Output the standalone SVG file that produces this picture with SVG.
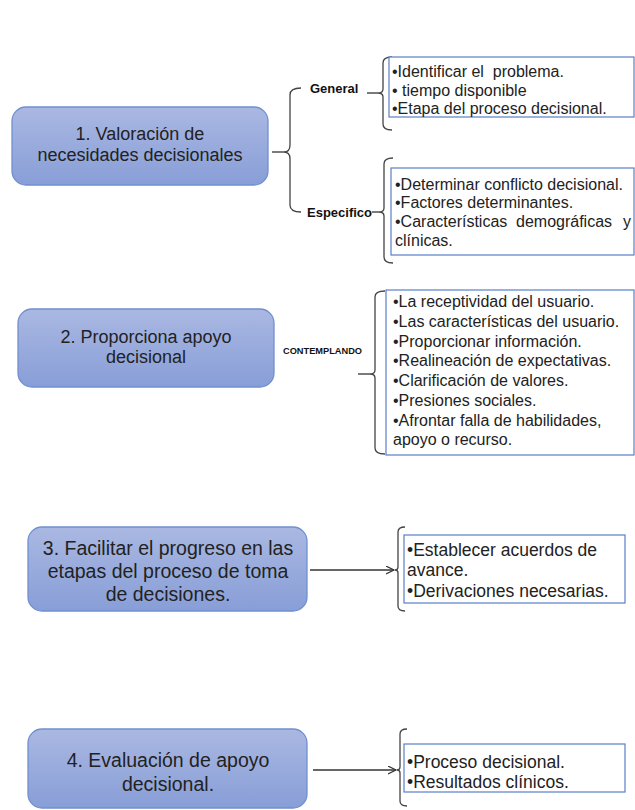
<svg xmlns="http://www.w3.org/2000/svg" width="635" height="810" viewBox="0 0 635 810">
<defs>
<linearGradient id="g" x1="0" y1="0" x2="0" y2="1">
<stop offset="0" stop-color="#aab8e2"/>
<stop offset="1" stop-color="#889ed7"/>
</linearGradient>
<marker id="arr" markerWidth="10" markerHeight="10" refX="8" refY="4" orient="auto" markerUnits="userSpaceOnUse">
<path d="M0,0 L8,4 L0,8" fill="none" stroke="#333" stroke-width="1.2"/>
</marker>
<style>
.node{fill:url(#g);stroke:#7090d0;stroke-width:1.3}
.list{fill:#fff;stroke:#5a7fc8;stroke-width:1.2}
.t{font-family:"Liberation Sans",Arial,sans-serif;fill:#222}
.big{font-size:18px}
.big2{font-size:19.5px}
.item{font-size:16px}
.item2{font-size:17.5px}
.lbl{font-family:"Liberation Sans",Arial,sans-serif;font-weight:bold;fill:#111}
.br{fill:none;stroke:#444;stroke-width:1.3}
.ln{fill:none;stroke:#333;stroke-width:1.3}
</style>
</defs>
<rect width="635" height="810" fill="#fff"/>

<g id="connectors">
<line class="ln" x1="272" y1="152" x2="284" y2="152"/>
<path class="br" d="M301,88 Q290,88 290,95 L290,145 Q290,152 284,152 Q290,152 290,159 L290,205 Q290,212 301,212"/>
<line class="ln" x1="367" y1="93" x2="378" y2="93"/>
<path class="br" d="M392,57 Q383,57 383,63 L383,89 Q383,93 378,93 Q383,93 383,97 L383,124 Q383,130 392,130"/>
<line class="ln" x1="372" y1="212" x2="379" y2="212"/>
<path class="br" d="M393,158 Q384,158 384,164 L384,208 Q384,212 379,212 Q384,212 384,216 L384,257 Q384,263 393,263"/>
<line class="ln" x1="358" y1="374" x2="370" y2="374"/>
<path class="br" d="M385,291 Q375,291 375,297 L375,370 Q375,374 370,374 Q375,374 375,378 L375,448 Q375,454 385,454"/>
<line class="ln" x1="310" y1="570" x2="394" y2="570" marker-end="url(#arr)"/>
<path class="br" d="M405,527 Q398,527 398,532 L398,567 Q398,570 395,570 Q398,570 398,573 L398,606 Q398,611 405,611"/>
<line class="ln" x1="313" y1="770" x2="396" y2="770" marker-end="url(#arr)"/>
<path class="br" d="M407,729 Q400,729 400,734 L400,767 Q400,770 397,770 Q400,770 400,773 L400,801 Q400,806 407,806"/>
</g>

<g id="n1">
<rect class="node" x="12" y="107" width="256" height="78" rx="14"/>
<text class="t big" x="140" y="140" text-anchor="middle">1. Valoración de</text>
<text class="t big" x="140" y="161" text-anchor="middle">necesidades decisionales</text>
</g>
<g id="lbl-general">
<text class="lbl" x="310" y="93" font-size="13">General</text>
</g>
<g id="lbl-especifico">
<text class="lbl" x="307" y="217" font-size="13">Especifico</text>
</g>
<g id="l1a">
<rect class="list" x="389" y="57" width="245" height="60"/>
<text class="t item" x="392" y="77" xml:space="preserve">•Identificar el  problema.</text>
<text class="t item" x="392" y="96">• tiempo disponible</text>
<text class="t item" x="392" y="114">•Etapa del proceso decisional.</text>
</g>
<g id="l1b">
<rect class="list" x="391" y="168" width="243" height="87"/>
<text class="t item" x="395" y="190">•Determinar conflicto decisional.</text>
<text class="t item" x="395" y="208">•Factores determinantes.</text>
<text class="t item" y="227"><tspan x="395">•Características</tspan><tspan x="516">demográficas</tspan><tspan x="623">y</tspan></text>
<text class="t item" x="395" y="246">clínicas.</text>
</g>

<g id="n2">
<rect class="node" x="18" y="309" width="256" height="78" rx="14"/>
<text class="t big" x="146" y="343" text-anchor="middle">2. Proporciona apoyo</text>
<text class="t big" x="146" y="363" text-anchor="middle">decisional</text>
</g>
<g id="lbl-contemplando">
<text class="lbl" x="283" y="354" font-size="9" textLength="79" lengthAdjust="spacingAndGlyphs">CONTEMPLANDO</text>
</g>
<g id="l2">
<rect class="list" x="386" y="290" width="248" height="165"/>
<text class="t item" x="393" y="307">•La receptividad del usuario.</text>
<text class="t item" x="393" y="327">•Las características del usuario.</text>
<text class="t item" x="393" y="347">•Proporcionar información.</text>
<text class="t item" x="393" y="366">•Realineación de expectativas.</text>
<text class="t item" x="393" y="386">•Clarificación de valores.</text>
<text class="t item" x="393" y="406">•Presiones sociales.</text>
<text class="t item" x="393" y="426">•Afrontar falla de habilidades,</text>
<text class="t item" x="393" y="445">apoyo o recurso.</text>
</g>

<g id="n3">
<rect class="node" x="28" y="527" width="279" height="84" rx="14"/>
<text class="t big2" x="168" y="555" text-anchor="middle">3. Facilitar el progreso en las</text>
<text class="t big2" x="168" y="578" text-anchor="middle">etapas del proceso de toma</text>
<text class="t big2" x="168" y="601" text-anchor="middle">de decisiones.</text>
</g>
<g id="l3">
<rect class="list" x="404" y="535" width="221" height="68"/>
<text class="t item2" x="407" y="556">•Establecer acuerdos de</text>
<text class="t item2" x="407" y="576">avance.</text>
<text class="t item2" x="407" y="597">•Derivaciones necesarias.</text>
</g>

<g id="n4">
<rect class="node" x="28" y="729" width="279" height="79" rx="14"/>
<text class="t big2" x="168" y="767" text-anchor="middle">4. Evaluación de apoyo</text>
<text class="t big2" x="168" y="791" text-anchor="middle">decisional.</text>
</g>
<g id="l4">
<rect class="list" x="404" y="744" width="221" height="48"/>
<text class="t item2" x="407" y="768">•Proceso decisional.</text>
<text class="t item2" x="407" y="788">•Resultados clínicos.</text>
</g>
</svg>
